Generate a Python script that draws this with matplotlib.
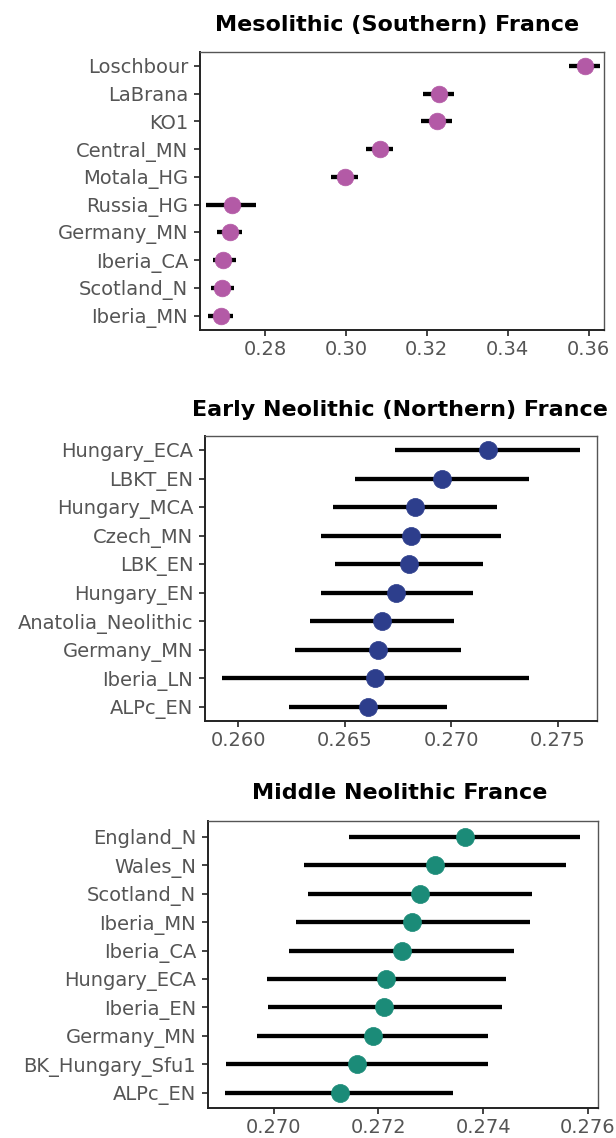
import matplotlib
matplotlib.use("Agg")
import matplotlib.pyplot as plt

plt.rcParams['font.family'] = ['DejaVu Sans']

# panel 1: Mesolithic (Southern) France
meso_labels = ["Loschbour", "LaBrana", "KO1", "Central_MN", "Motala_HG",
               "Russia_HG", "Germany_MN", "Iberia_CA", "Scotland_N", "Iberia_MN"]
meso_est = [0.3590, 0.3230, 0.3225, 0.3083, 0.2997, 0.2719, 0.2713, 0.2697, 0.2694, 0.2690]
meso_lo = [0.3551, 0.3190, 0.3185, 0.3049, 0.2963, 0.2655, 0.2680, 0.2670, 0.2665, 0.2660]
meso_hi = [0.3629, 0.3266, 0.3263, 0.3117, 0.3030, 0.2777, 0.2743, 0.2729, 0.2724, 0.2721]
meso_ticks = [0.28, 0.30, 0.32, 0.34, 0.36]

# panel 2: Early Neolithic (Northern) France
en_labels = ["Hungary_ECA", "LBKT_EN", "Hungary_MCA", "Czech_MN", "LBK_EN",
             "Hungary_EN", "Anatolia_Neolithic", "Germany_MN", "Iberia_LN", "ALPc_EN"]
en_est = [0.27172, 0.26958, 0.26832, 0.26812, 0.26801, 0.26742, 0.26675, 0.26656, 0.26644, 0.26609]
en_lo = [0.26738, 0.26550, 0.26443, 0.26387, 0.26454, 0.26387, 0.26336, 0.26266, 0.25923, 0.26240]
en_hi = [0.27605, 0.27365, 0.27214, 0.27236, 0.27151, 0.27100, 0.27015, 0.27044, 0.27365, 0.26978]
en_ticks = [0.260, 0.265, 0.270, 0.275]

# panel 3: Middle Neolithic France
mn_labels = ["England_N", "Wales_N", "Scotland_N", "Iberia_MN", "Iberia_CA",
             "Hungary_ECA", "Iberia_EN", "Germany_MN", "BK_Hungary_Sfu1", "ALPc_EN"]
mn_est = [0.273645, 0.273075, 0.272798, 0.27264, 0.27245, 0.27215, 0.27211, 0.27189, 0.27159, 0.27126]
mn_lo = [0.27144, 0.27058, 0.27066, 0.27042, 0.27030, 0.26987, 0.26989, 0.26969, 0.26909, 0.26907]
mn_hi = [0.27585, 0.27558, 0.27494, 0.27489, 0.27459, 0.27444, 0.27435, 0.27410, 0.27410, 0.27343]
mn_ticks = [0.270, 0.272, 0.274, 0.276]

W, H = 616, 1138
fig = plt.figure(figsize=(W / 100, H / 100), dpi=100)


def px_axes(l, t, r, b):
    return fig.add_axes([l / W, 1 - b / H, (r - l) / W, (b - t) / H])


def panel(ax, labels, est, lo, hi, ticks, xlim, ylim, color, fmt, ms):
    n = len(labels)
    ys = list(range(n - 1, -1, -1))
    ax.hlines(ys, lo, hi, color="black", lw=3.1, zorder=2)
    ax.plot(est, ys, "o", color=color, ms=ms, mec=color, mew=0.5, zorder=3)
    ax.set_yticks(ys)
    ax.set_yticklabels(labels)
    ax.set_xticks(ticks)
    ax.set_xticklabels([fmt % t for t in ticks])
    ax.set_xlim(*xlim)
    ax.set_ylim(*ylim)
    ax.tick_params(axis="both", labelsize=14, labelcolor="#555555", color="#222222",
                   length=4.5, width=1.2)
    ax.tick_params(axis="y", pad=4)
    ax.tick_params(axis="x", pad=3)
    for s in ["top", "right"]:
        ax.spines[s].set_color("#555555")
        ax.spines[s].set_linewidth(1.0)
    for s in ["left", "bottom"]:
        ax.spines[s].set_color("#222222")
        ax.spines[s].set_linewidth(1.4)


ax1 = px_axes(200, 52, 604, 330)
panel(ax1, meso_labels, meso_est, meso_lo, meso_hi, meso_ticks,
      (0.2639, 0.3638), (-0.52, 9.5), "#B35AA6", "%.2f", 12)
fig.text(397 / W, 1 - 25 / H, "Mesolithic (Southern) France", ha="center", va="center",
         fontsize=16, fontweight="bold")

ax2 = px_axes(205, 436, 597, 721)
panel(ax2, en_labels, en_est, en_lo, en_hi, en_ticks,
      (0.25843, 0.27685), (-0.5, 9.5), "#2D3E8C", "%.3f", 13)
fig.text(400 / W, 1 - 410 / H, "Early Neolithic (Northern) France", ha="center", va="center",
         fontsize=16, fontweight="bold")

ax3 = px_axes(208, 821, 598, 1108)
panel(ax3, mn_labels, mn_est, mn_lo, mn_hi, mn_ticks,
      (0.26875, 0.27619), (-0.53, 9.55), "#1B8B78", "%.3f", 13)
fig.text(400 / W, 1 - 793 / H, "Middle Neolithic France", ha="center", va="center",
         fontsize=16, fontweight="bold")

fig.savefig("out.png", dpi=100, facecolor="white")
